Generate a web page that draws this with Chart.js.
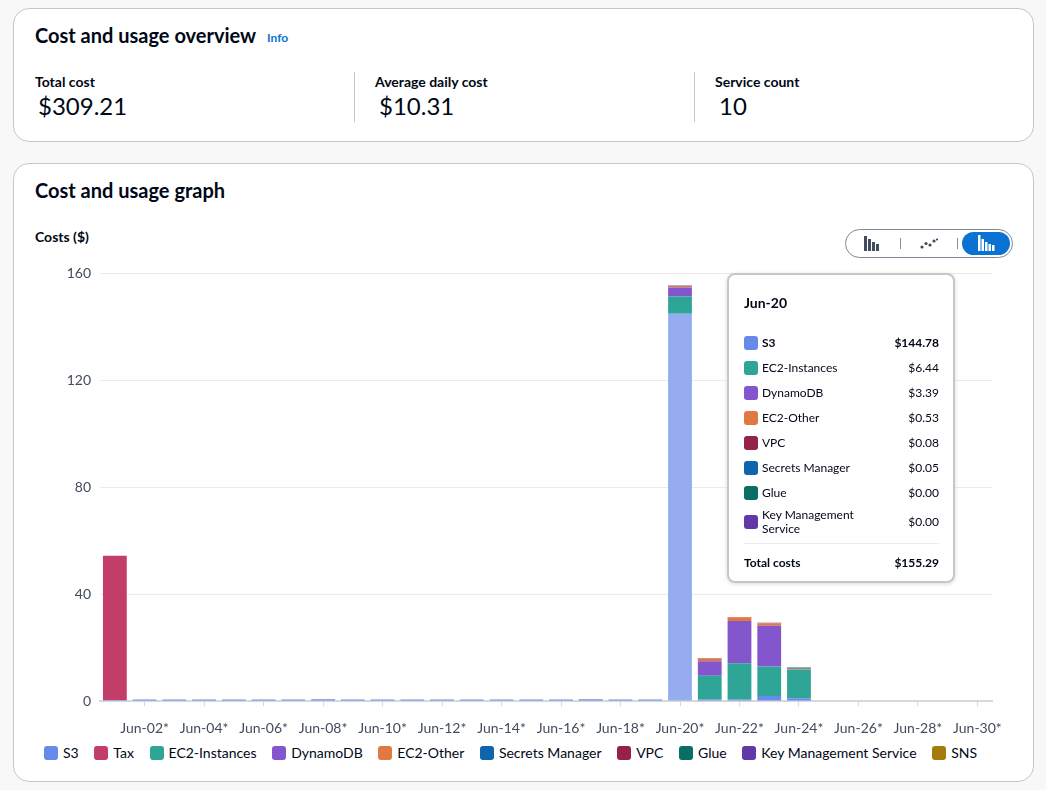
<!DOCTYPE html>
<html><head><meta charset="utf-8">
<script src="https://cdn.jsdelivr.net/npm/chart.js@4.4.0/dist/chart.umd.min.js"></script>
<style>
html,body{margin:0;padding:0;background:#f8f8f8;width:1046px;height:790px;overflow:hidden;font-family:Lato,"Open Sans",sans-serif;color:#000716;}
.card{position:absolute;left:13px;width:1021px;background:#fff;border:1px solid #c6c6cd;border-radius:16px;box-sizing:border-box;}
.abs{position:absolute;white-space:nowrap;}
.h2{font-weight:700;font-size:20px;}
.info{color:#0972d3;font-weight:700;font-size:12px;}
.lbl{font-weight:700;font-size:14px;}
.val{font-size:24px;}
.div{position:absolute;width:1px;background:#c6c6cd;}
#legend{position:absolute;left:44px;top:744px;display:flex;align-items:center;font-size:14px;}
#legend .it{display:flex;align-items:center;margin-right:15.6px;}
#legend .sw{width:14px;height:14px;border-radius:3px;margin-right:5px;}
#tip{position:absolute;left:727px;top:273px;width:228px;height:310px;box-sizing:border-box;background:#fff;border:2px solid #c6c6cd;border-radius:8px;box-shadow:0 1px 4px rgba(0,7,22,0.15);font-size:12px;}
#tip .t{position:absolute;left:15px;top:19px;font-weight:700;font-size:14px;}
#tip .row{position:absolute;left:15px;width:195px;display:flex;align-items:center;}
#tip .sw{width:14px;height:14px;border-radius:3px;margin-right:4px;flex:none;}
#tip .nm{flex:1;line-height:14px;}
#tip .v{text-align:right;}
#seg{position:absolute;left:845px;top:229px;width:168px;height:29px;box-sizing:border-box;border:1px solid #7d8998;border-radius:15px;}
</style></head>
<body>
<div class="card" style="top:8px;height:134px;"></div>
<div class="abs h2" style="left:35px;top:23px;">Cost and usage overview</div>
<div class="abs info" style="left:267px;top:30px;">Info</div>
<div class="abs lbl" style="left:35px;top:73px;">Total cost</div>
<div class="abs val" style="left:38px;top:91px;">$309.21</div>
<div class="div" style="left:354px;top:72px;height:50px;"></div>
<div class="abs lbl" style="left:375px;top:73px;">Average daily cost</div>
<div class="abs val" style="left:379px;top:91px;">$10.31</div>
<div class="div" style="left:694px;top:72px;height:50px;"></div>
<div class="abs lbl" style="left:715px;top:73px;">Service count</div>
<div class="abs val" style="left:719px;top:91px;">10</div>

<div class="card" style="top:163px;height:619px;"></div>
<div class="abs h2" style="left:35px;top:178px;">Cost and usage graph</div>
<div class="abs lbl" style="left:35px;top:228px;">Costs ($)</div>

<div id="seg">
 <svg width="168" height="29" style="position:absolute;left:-1px;top:-1px">
  <g fill="#414d5c"><rect x="19" y="7" width="3" height="15"/><rect x="23" y="10" width="3" height="12"/><rect x="27" y="13" width="3" height="9"/><rect x="31" y="15" width="3" height="7"/></g>
  <rect x="55" y="9" width="1" height="11" fill="#8c8c94"/>
  <g fill="#414d5c"><circle cx="77" cy="18" r="1.6"/><circle cx="81" cy="14.5" r="1.6"/><circle cx="85" cy="16" r="1.6"/><circle cx="89" cy="12" r="1.6"/><circle cx="92" cy="10.5" r="1.1"/></g>
  <rect x="112" y="9" width="1" height="11" fill="#8c8c94"/>
  <rect x="117" y="3" width="48" height="23" rx="11.5" fill="#0972d3"/>
  <g fill="#fff"><rect x="133" y="6" width="2.5" height="16"/><rect x="136.5" y="10" width="2.5" height="12"/><rect x="140" y="13" width="2.5" height="9"/><rect x="143.5" y="15" width="2.5" height="7"/><rect x="147" y="16" width="2.5" height="6"/></g>
 </svg>
</div>

<div style="position:absolute;left:30px;top:255px;width:986px;height:486px;"><canvas id="c"></canvas></div>
<div id="legend"></div>
<div id="tip"></div>

<script>
const days = ['Jun-01','Jun-02','Jun-03','Jun-04','Jun-05','Jun-06','Jun-07','Jun-08','Jun-09','Jun-10','Jun-11','Jun-12','Jun-13','Jun-14','Jun-15','Jun-16','Jun-17','Jun-18','Jun-19','Jun-20','Jun-21','Jun-22','Jun-23','Jun-24','Jun-25','Jun-26','Jun-27','Jun-28','Jun-29','Jun-30'];
const tickLabels = ['','Jun-02*','','Jun-04*','','Jun-06*','','Jun-08*','','Jun-10*','','Jun-12*','','Jun-14*','','Jun-16*','','Jun-18*','','Jun-20*','','Jun-22*','','Jun-24*','','Jun-26*','','Jun-28*','','Jun-30*'];
const yTicks = [0, 40, 80, 120, 160];

const serviceNames = ['S3','Tax','EC2-Instances','DynamoDB','EC2-Other','Secrets Manager','VPC','Glue','Key Management Service','SNS'];
const serviceColors = ['#688ae8','#c33d69','#2ea597','#8456ce','#e07941','#0f64ad','#962249','#096f64','#6237a7','#a47b0c'];

const s3 = [0.4,0.6,0.58,0.6,0.59,0.57,0.6,0.61,0.58,0.6,0.59,0.58,0.6,0.59,0.57,0.6,0.61,0.58,0.6,144.783,0.6,0.6,1.9,1.0,0,0,0,0,0,0];
const tax = [53.9,null,null,null,null,null,null,null,null,null,null,null,null,null,null,null,null,null,null,null,null,null,null,null,null,null,null,null,null,null];
const ec2Instances = [0,0,0,0,0,0,0,0,0,0,0,0,0,0,0,0,0,0,0,6.444,8.8,13.5,11.0,10.8,0,0,0,0,0,0];
const dynamoDB = [0,0,0,0,0,0,0,0,0,0,0,0,0,0,0,0,0,0,0,3.392,5.5,15.8,15.2,0,0,0,0,0,0,0];
const ec2Other = [0,0,0,0,0,0,0,0,0,0,0,0,0,0,0,0,0,0,0,0.534,1.0,1.4,1.0,0.25,0,0,0,0,0,0];
const secretsManager = [0,0,0,0,0,0,0,0,0,0,0,0,0,0,0,0,0,0,0,0.054,0.05,0.05,0.05,0.05,0,0,0,0,0,0];
const vpc = [0,0,0,0,0,0,0,0,0,0,0,0,0,0,0,0,0,0,0,0.084,0.08,0.08,0.08,0.08,0,0,0,0,0,0];
const glue = [0,0,0,0,0,0,0,0,0,0,0,0,0,0,0,0,0,0,0,0.002,0,0,0,0.3,0,0,0,0,0,0];
const kms = [0,0,0,0,0,0,0,0,0,0,0,0,0,0,0,0,0,0,0,0.001,0,0,0,0,0,0,0,0,0,0];
const sns = [0,0,0,0,0,0,0,0,0,0,0,0,0,0,0,0,0,0,0,null,0.01,0.01,0.01,0,0,0,0,0,0,0];

const seriesValues = [s3, tax, ec2Instances, dynamoDB, ec2Other, secretsManager, vpc, glue, kms, sns];
const hoverIndex = 19;
const hoverSeries = 0;

const datasets = serviceNames.map((n, i) => ({
  label: n,
  data: seriesValues[i],
  backgroundColor: (ctx) => (i === hoverSeries && ctx.dataIndex === hoverIndex) ? '#95adee' : serviceColors[i],
  borderWidth: 0,
  stack: 's',
  categoryPercentage: 0.8,
  barPercentage: 1.0
}));

Chart.defaults.font.family = 'Lato, "Open Sans", sans-serif';
new Chart(document.getElementById('c'), {
  type: 'bar',
  data: { labels: days, datasets },
  options: {
    responsive: true, maintainAspectRatio: false, animation: false,
    layout: { padding: { top: 18, right: 12, bottom: 0, left: 0 } },
    plugins: { legend: { display: false }, tooltip: { enabled: false } },
    scales: {
      x: {
        stacked: true,
        afterFit: (s) => { s.height = 40; },
        grid: { display: true, drawOnChartArea: false, offset: false, tickLength: 5,
                tickColor: (ctx) => tickLabels[ctx.index] ? '#d5d8dc' : 'rgba(0,0,0,0)' },
        border: { display: true, color: '#d5d8dc', width: 2 },
        ticks: { autoSkip: false, maxRotation: 0, padding: 14, color: '#414d5c', font: { size: 14 },
                 callback: (v, i) => tickLabels[i] }
      },
      y: {
        stacked: true, min: 0, max: 160,
        afterFit: (s) => { s.width = 70; },
        afterBuildTicks: (s) => { s.ticks = yTicks.map(v => ({ value: v })); },
        grid: { color: '#e9ebed', drawTicks: false },
        border: { display: false },
        ticks: { padding: 9, color: '#414d5c', font: { size: 14 } }
      }
    }
  }
});

// legend
const lg = document.getElementById('legend');
serviceNames.forEach((n, i) => {
  const it = document.createElement('div'); it.className = 'it';
  it.innerHTML = '<div class="sw" style="background:' + serviceColors[i] + '"></div><span>' + n + '</span>';
  lg.appendChild(it);
});

// tooltip for hovered day
const tip = document.getElementById('tip');
let html = '<div class="t">' + days[hoverIndex] + '</div>';
const rows = serviceNames.map((n, i) => ({ n, i, v: seriesValues[i][hoverIndex] }))
  .filter(r => r.v !== null && r.v !== undefined && r.v > 0)
  .sort((a, b) => b.v - a.v);
let y = 55;
rows.forEach((r, k) => {
  const two = r.n.length > 18;
  const h = two ? 33 : 25;
  const label = two ? r.n.replace(' Service', '<br>Service') : r.n;
  const bold = r.i === hoverSeries ? 'font-weight:700;' : '';
  html += '<div class="row" style="top:' + y + 'px;height:' + h + 'px;' + bold + '"><div class="sw" style="background:' + serviceColors[r.i] + '"></div><div class="nm">' + label + '</div><div class="v">$' + r.v.toFixed(2) + '</div></div>';
  y += h;
});
const total = rows.reduce((a, r) => a + r.v, 0);
html += '<div style="position:absolute;left:15px;width:195px;top:' + (y + 5) + 'px;height:1px;background:#e9ebed"></div>';
html += '<div class="row" style="top:' + (y + 12) + 'px;height:25px;font-weight:700;"><div class="nm">Total costs</div><div class="v">$' + total.toFixed(2) + '</div></div>';
tip.innerHTML = html;
</script>
</body></html>
